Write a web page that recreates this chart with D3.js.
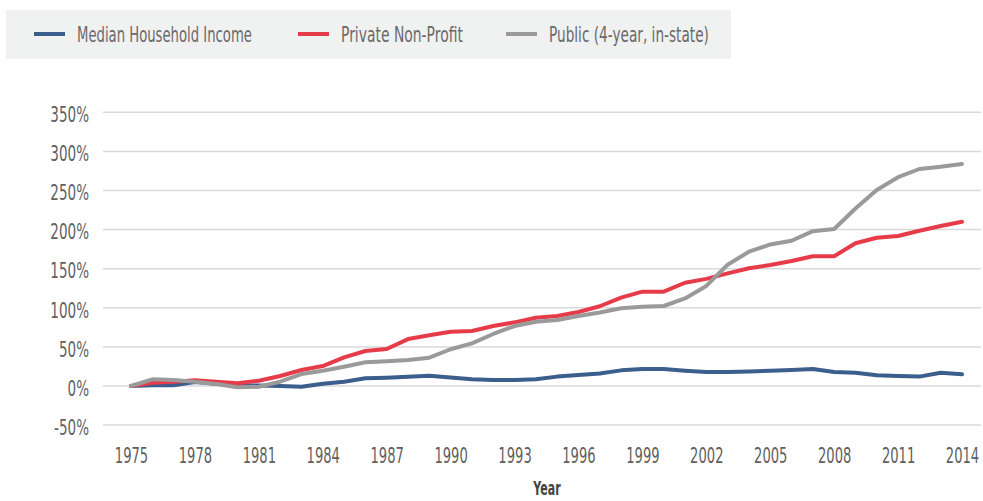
<!DOCTYPE html>
<html>
<head>
<meta charset="utf-8">
<script src="https://cdn.jsdelivr.net/npm/d3@7"></script>
<style>
  body { margin: 0; background: #fff; }
  svg text { font-family: "DejaVu Sans", "Liberation Sans", sans-serif; fill: #5f5f5f; }
</style>
</head>
<body>
<div id="chart"></div>
<script>
// years on the x axis
const years = d3.range(1975, 2015);
const yTicks = [-50, 0, 50, 100, 150, 200, 250, 300, 350];
const xTickYears = [1975, 1978, 1981, 1984, 1987, 1990, 1993, 1996, 1999, 2002, 2005, 2008, 2011, 2014];

// % change since 1975
const medianIncome = [0, 1, 1, 5, 3, 1, 0.5, 0, -1, 3, 5.5, 9.8, 10.6, 11.9, 13.2, 11, 8.5, 7.7, 7.7, 8.5,
  12, 14, 16, 20, 21.7, 21.7, 19.6, 18, 18, 18.5, 19.6, 20.5, 21.7, 18, 17, 13.7, 12.8, 12, 17, 15];
const privateNonProfit = [0, 4, 5.5, 7.5, 5.5, 3.4, 6.8, 12.8, 20.4, 25.5, 36.7, 44.8, 47.3, 60, 65, 69.4, 70.3, 76.7, 81.4, 87.3,
  89.5, 94.6, 102, 113, 120.6, 120.6, 132, 137, 144, 150.5, 154.7, 159.8, 166, 166, 182.5, 189.6, 191.8, 198.6, 204.6, 210];
const publicInState = [0, 8.5, 7.7, 5.5, 2.5, -1.7, -1, 5.5, 15.3, 19.6, 24.7, 30.3, 31.6, 33.2, 36.2, 47, 54.6, 66.5, 76.7, 82.2,
  84.4, 89.5, 94, 99.4, 101.4, 102.3, 112, 128, 155, 171.7, 181, 185.8, 198, 200.8, 227, 250.6, 267, 277.5, 280.4, 284];

const seriesNames = ["Median Household Income", "Private Non-Profit", "Public (4-year, in-state)"];
const seriesColors = ["#3b5e8c", "#e63c4a", "#9a9a9a"];
const seriesValues = [medianIncome, privateNonProfit, publicInState];

const width = 983, height = 501;

// the original uses a condensed face; squeeze the installed one horizontally
function condense(sel, k) {
    sel.attr("transform", "scale(" + k + ",1)");
}

const svg = d3.select("#chart").append("svg")
    .attr("width", width)
    .attr("height", height);

const x = d3.scaleLinear().domain([1975, 2014]).range([131, 962]);
const y = d3.scaleLinear().domain([0, 350]).range([386, 112.3]);

// grid lines
svg.append("g")
    .selectAll("line")
    .data(yTicks)
    .enter()
    .append("line")
    .attr("x1", 103)
    .attr("x2", 981)
    .attr("y1", d => y(d))
    .attr("y2", d => y(d))
    .attr("stroke", "#d9d9d9")
    .attr("stroke-width", 1.5);

// y axis labels
const yAxis = svg.append("g")
    .attr("transform", "translate(89,0)")
    .call(d3.axisLeft(y).tickValues(yTicks).tickSize(0).tickPadding(0).tickFormat(d => d + "%"));
yAxis.select(".domain").remove();
yAxis.selectAll("text")
    .attr("x", 0)
    .style("font-size", "20.5px")
    .attr("dy", "0.45em")
    .call(condense, 0.66);

// x axis labels
const xAxis = svg.append("g")
    .attr("transform", "translate(0,445)")
    .call(d3.axisBottom(x).tickValues(xTickYears).tickSize(0).tickPadding(3).tickFormat(d3.format("d")));
xAxis.select(".domain").remove();
xAxis.selectAll("text")
    .style("font-size", "20.5px")
    .call(condense, 0.64);

svg.append("text")
    .attr("transform", "translate(547,495) scale(0.58,1)")
    .attr("text-anchor", "middle")
    .style("font-size", "19px")
    .style("font-weight", "bold")
    .style("fill", "#444")
    .text("Year");

// lines
const lineFunction = d3.line()
    .x((d, i) => x(years[i]))
    .y(d => y(d));

svg.append("g")
    .selectAll("path")
    .data(seriesValues)
    .enter()
    .append("path")
    .attr("d", d => lineFunction(d))
    .attr("fill", "none")
    .attr("stroke", (d, i) => seriesColors[i])
    .attr("stroke-width", 4)
    .attr("stroke-linejoin", "round")
    .attr("stroke-linecap", "round");

// legend
const legend = svg.append("g");
legend.append("rect")
    .attr("x", 6)
    .attr("y", 10)
    .attr("width", 725)
    .attr("height", 49)
    .attr("fill", "#f0f1f1");

const legendX = [34, 298, 506];
const legendTextW = [175, 122, 160];
const items = legend.selectAll("g.item")
    .data(seriesNames)
    .enter()
    .append("g")
    .attr("transform", (d, i) => "translate(" + legendX[i] + ",34)");
items.append("line")
    .attr("x1", 0)
    .attr("x2", 31)
    .attr("stroke", (d, i) => seriesColors[i])
    .attr("stroke-width", 4);
items.append("text")
    .attr("dy", "0.36em")
    .style("font-size", "21px")
    .style("fill", "#6a6a6a")
    .text(d => d)
    .each(function(d, i) {
        const k = legendTextW[i] / this.getComputedTextLength();
        d3.select(this).attr("transform", "translate(43,0) scale(" + k + ",1)");
    });
</script>
</body>
</html>
